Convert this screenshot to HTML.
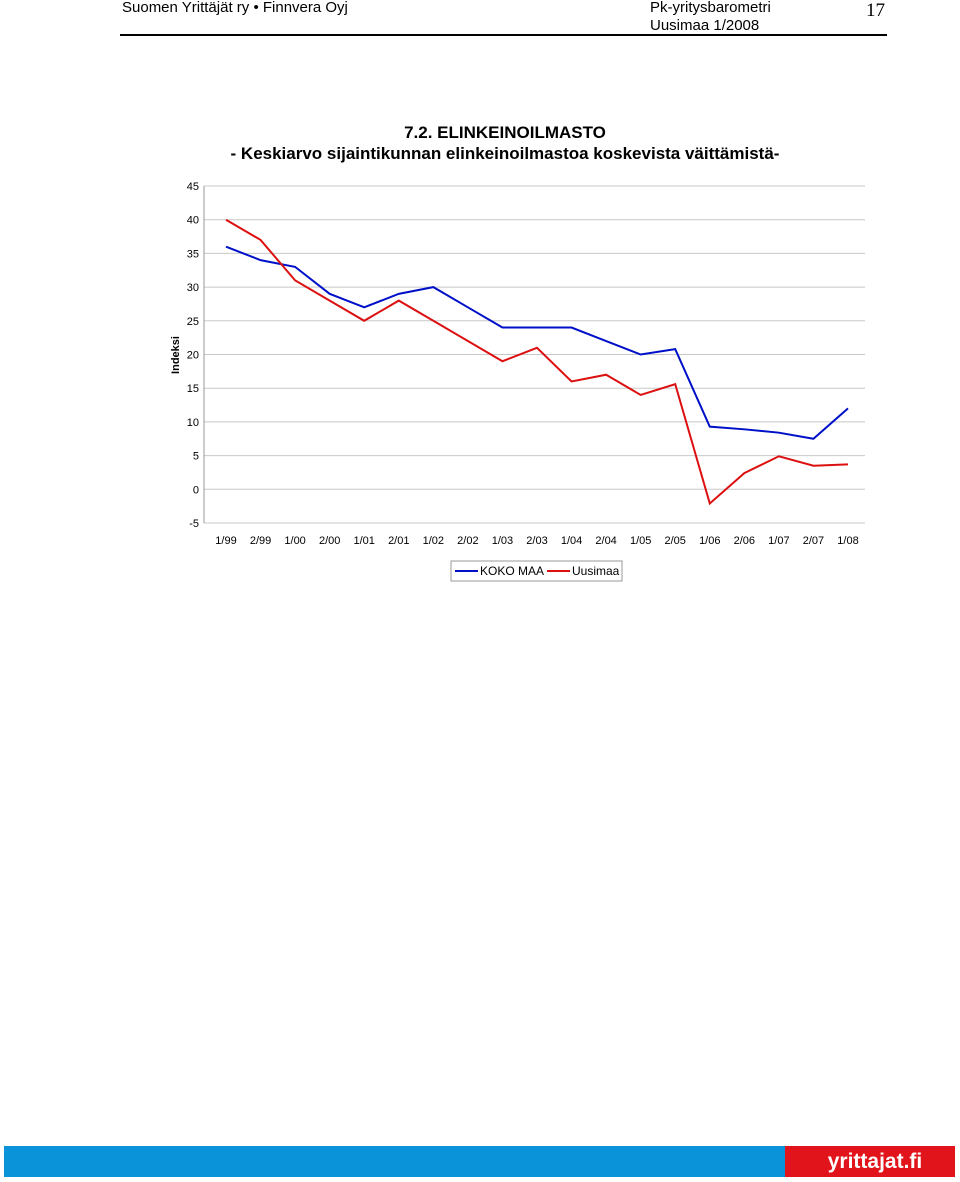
<!DOCTYPE html>
<html><head><meta charset="utf-8"><style>
body{margin:0;width:960px;height:1182px;background:#fff;position:relative;font-family:"Liberation Sans",sans-serif;overflow:hidden}
.a{position:absolute;white-space:nowrap}
</style></head><body>
<div class="a" style="left:122px;top:-1px;font-size:15px">Suomen Yrittäjät ry • Finnvera Oyj</div>
<div class="a" style="left:650px;top:-1px;font-size:15px;line-height:18px">Pk-yritysbarometri<br>Uusimaa 1/2008</div>
<div class="a" style="left:866px;top:0px;font-size:19px;font-family:'Liberation Serif',serif">17</div>
<div class="a" style="left:120px;top:34px;width:767px;height:2px;background:#000"></div>
<div class="a" style="left:105px;width:800px;top:122px;text-align:center;font-size:17px;line-height:21px;font-weight:bold">7.2. ELINKEINOILMASTO<br>- Keskiarvo sijaintikunnan elinkeinoilmastoa koskevista väittämistä-</div>
<svg class="a" style="left:0;top:0" width="960" height="600" id="chart"></svg>
<div class="a" style="left:4px;top:1146px;width:781px;height:31px;background:#0a93d8"></div>
<div class="a" style="left:785px;top:1146px;width:170px;height:31px;background:#e1141c;color:#fff;font-weight:bold;font-size:21px;line-height:31px;text-align:center;padding-left:10px;box-sizing:border-box">yrittajat.fi</div>
<script>
const categories=["1/99","2/99","1/00","2/00","1/01","2/01","1/02","2/02","1/03","2/03","1/04","2/04","1/05","2/05","1/06","2/06","1/07","2/07","1/08"];
const kokoMaa=[36,34,33,29,27,29,30,27,24,24,24,22,20,20.8,9.3,8.9,8.4,7.5,12];
const uusimaa=[40,37,31,28,25,28,25,22,19,21,16,17,14,15.6,-2.1,2.4,4.9,3.5,3.7];
const yTicks=[45,40,35,30,25,20,15,10,5,0,-5];
const svg=document.getElementById('chart');const NS='http://www.w3.org/2000/svg';
const X=i=>226+i*(848-226)/(categories.length-1);
const Y=v=>186+(45-v)*(523-186)/50;
function mk(t,a){const e=document.createElementNS(NS,t);for(const k in a)e.setAttribute(k,a[k]);svg.appendChild(e);return e;}
yTicks.forEach(v=>{const g=mk('line',{x1:204,x2:865,y1:Y(v),y2:Y(v),stroke:'#c8c8c8','stroke-width':1});


const t=mk('text',{x:199,y:Y(v)+4,'text-anchor':'end','font-size':11,fill:'#000'});t.textContent=v;

});
mk('line',{x1:204,x2:204,y1:186,y2:523,stroke:'#999'});
categories.forEach((c,i)=>{const t=mk('text',{x:X(i),y:544,'text-anchor':'middle','font-size':11});t.textContent=c;

});
const yt=mk('text',{x:0,y:0,transform:'translate(179,355) rotate(-90)','text-anchor':'middle','font-size':11,'font-weight':'bold'});yt.textContent='Indeksi';


[[kokoMaa,'#0010c8','series-koko-maa'],[uusimaa,'#dc1010','series-uusimaa']].forEach(([d,c,n])=>{
const p=mk('polyline',{points:d.map((v,i)=>X(i)+','+Y(v)).join(' '),fill:'none',stroke:c,'stroke-width':2});

});
const lb=mk('rect',{x:451,y:561,width:171,height:20,fill:'#fff',stroke:'#999'});


mk('line',{x1:455,x2:478,y1:571,y2:571,stroke:'#0010c8','stroke-width':2});
let t1=mk('text',{x:480,y:575,'font-size':12});t1.textContent='KOKO MAA';


mk('line',{x1:547,x2:570,y1:571,y2:571,stroke:'#dc1010','stroke-width':2});
let t2=mk('text',{x:572,y:575,'font-size':12});t2.textContent='Uusimaa';


</script>
</body></html>
